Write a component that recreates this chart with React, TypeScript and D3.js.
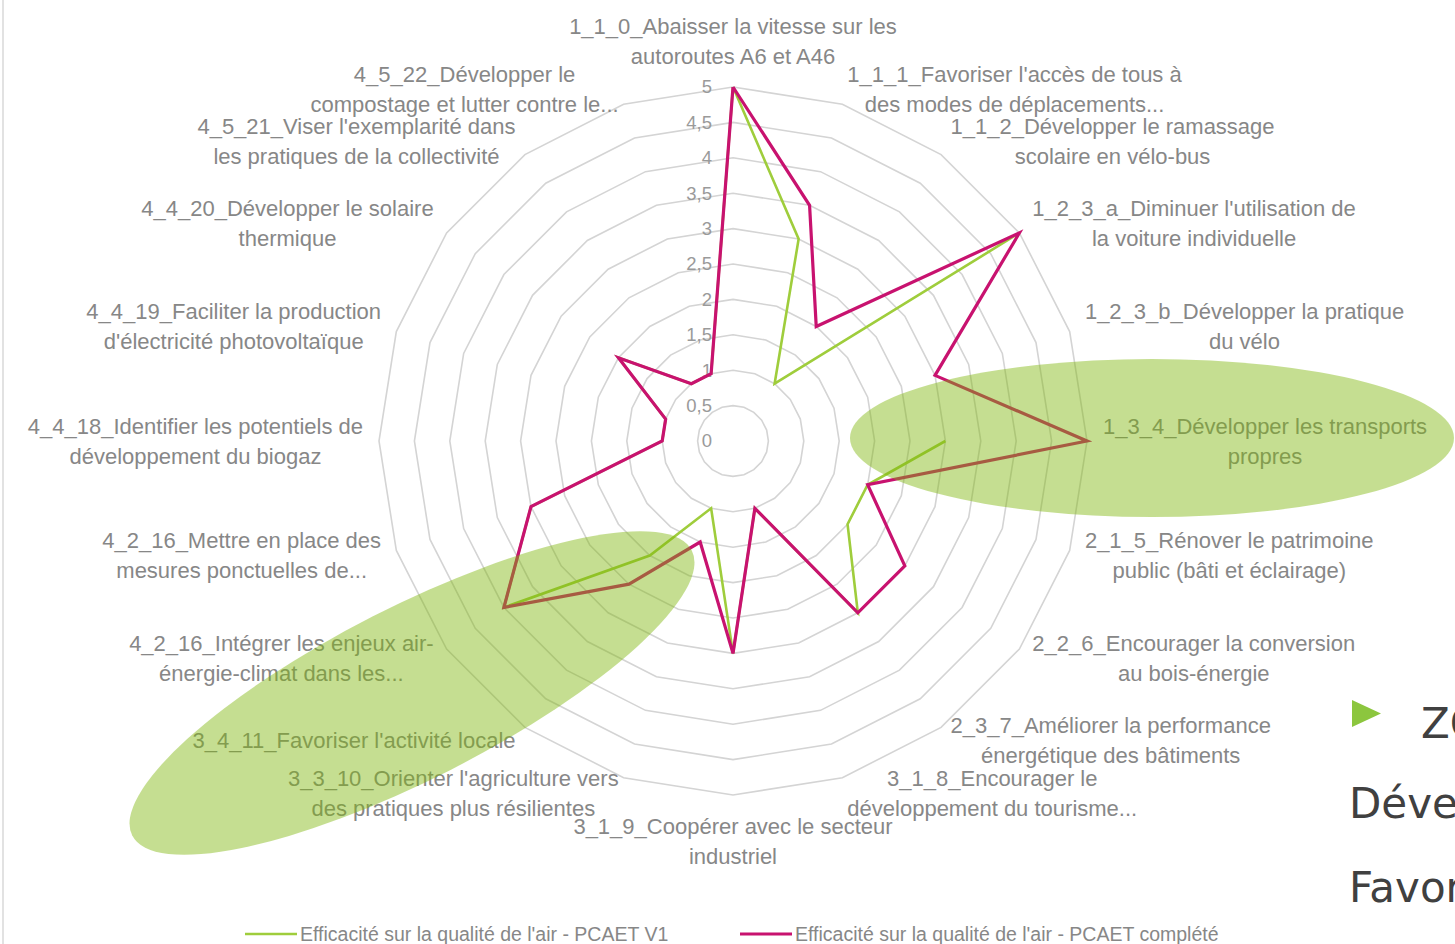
import React, { useEffect, useRef } from "react";
import * as d3 from "d3";

const categories: string[] = [
  "1_1_0_Abaisser la vitesse sur les\nautoroutes A6 et A46",
  "1_1_1_Favoriser l'accès de tous à\ndes modes de déplacements...",
  "1_1_2_Développer le ramassage\nscolaire en vélo-bus",
  "1_2_3_a_Diminuer l'utilisation de\nla voiture individuelle",
  "1_2_3_b_Développer la pratique\ndu vélo",
  "1_3_4_Développer les transports\npropres",
  "2_1_5_Rénover le patrimoine\npublic (bâti et éclairage)",
  "2_2_6_Encourager la conversion\nau bois-énergie",
  "2_3_7_Améliorer la performance\nénergétique des bâtiments",
  "3_1_8_Encourager le\ndéveloppement du tourisme...",
  "3_1_9_Coopérer avec le secteur\nindustriel",
  "3_3_10_Orienter l'agriculture vers\ndes pratiques plus résilientes",
  "3_4_11_Favoriser l'activité locale",
  "4_2_16_Intégrer les enjeux air-\nénergie-climat dans les...",
  "4_2_16_Mettre en place des\nmesures ponctuelles de...",
  "4_4_18_Identifier les potentiels de\ndéveloppement du biogaz",
  "4_4_19_Faciliter la production\nd'électricité photovoltaïque",
  "4_4_20_Développer le solaire\nthermique",
  "4_5_21_Viser l'exemplarité dans\nles pratiques de la collectivité",
  "4_5_22_Développer le\ncompostage et lutter contre le...",
];

const seriesV1: (number | null)[] = [5, 3, 1, 5, null, 3, 2, 2, 3, 1, 3, 1, 2, 4, 3, 1, 1, 2, 1, 1];
const seriesComplete: (number | null)[] = [5, 3.5, 2, 5, 3, 5, 2, 3, 3, 1, 3, 1.5, 2.5, 4, 3, 1, 1, 2, 1, 1];

const seriesNames: string[] = [
  "Efficacité sur la qualité de l'air - PCAET V1",
  "Efficacité sur la qualité de l'air - PCAET complété",
];

const tickValues: number[] = [0, 0.5, 1, 1.5, 2, 2.5, 3, 3.5, 4, 4.5, 5];
const tickLabels: string[] = ["0", "0,5", "1", "1,5", "2", "2,5", "3", "3,5", "4", "4,5", "5"];

const slideLines: string[] = ["ZO", "Déve", "Favor"];

const W = 1455;
const H = 944;
const CX = 733;
const CY = 441;
const R = 354;
const LABEL_FONT = "'Liberation Sans', Arial, sans-serif";
const GREEN = "#9fcd3c";
const MAGENTA = "#c8126f";

export default function App() {
  const ref = useRef<SVGSVGElement | null>(null);

  useEffect(() => {
    const svg = d3.select(ref.current);
    svg.selectAll("*").remove();

    const n = categories.length;
    const step = (2 * Math.PI) / n;
    const r = d3.scaleLinear().domain([0, 5]).range([0, R]);

    svg.append("rect").attr("width", W).attr("height", H).attr("fill", "#ffffff");
    svg.append("line").attr("x1", 3).attr("x2", 3).attr("y1", 0).attr("y2", H)
      .attr("stroke", "#d9d9d9").attr("stroke-width", 1.5);

    const g = svg.append("g").attr("transform", `translate(${CX},${CY})`);

    // grid rings
    const ring = d3.lineRadial<number>()
      .angle((_, i) => i * step)
      .radius((d) => r(d))
      .curve(d3.curveLinearClosed);
    tickValues.filter((v) => v > 0).forEach((v) => {
      g.append("path")
        .attr("d", ring(d3.range(n).map(() => v)) as string)
        .attr("fill", "none")
        .attr("stroke", "#d4d4d4")
        .attr("stroke-width", 1.6);
    });

    // tick labels
    tickValues.forEach((v, i) => {
      g.append("text")
        .attr("x", -21)
        .attr("y", -r(v))
        .attr("dy", "0.35em")
        .attr("text-anchor", "end")
        .attr("font-family", LABEL_FONT)
        .attr("font-size", 18.5)
        .attr("fill", "#9a9a9a")
        .text(tickLabels[i]);
    });

    // category labels
    const lineH = 30;
    categories.forEach((cat, i) => {
      const a = i * step;
      const s = Math.sin(a);
      const c = Math.cos(a);
      const ax = CX + (R + 16) * s;
      const ay = CY - (R + 16) * c;
      const lines = cat.split("\n");
      const texts = lines.map((ln) =>
        svg.append("text")
          .attr("font-family", LABEL_FONT)
          .attr("font-size", 22)
          .attr("fill", "#878787")
          .attr("text-anchor", "middle")
          .attr("dy", "0.35em")
          .text(ln)
      );
      const widths = texts.map((t) => (t.node() as SVGTextElement).getComputedTextLength());
      const bw = Math.max(...widths);
      const m = lines.length;
      texts.forEach((t, j) => {
        let x: number;
        let y: number;
        if (Math.abs(s) < 1e-6) {
          x = ax;
          y = c > 0 ? ay - 15 - (m - 1 - j) * lineH : ay + 15 + j * lineH;
        } else {
          x = s > 0 ? ax + bw / 2 : ax - bw / 2;
          y = ay + (j - (m - 1) / 2) * lineH;
        }
        t.attr("x", x).attr("y", y);
      });
    });

    // series
    const line = d3.lineRadial<number | null>()
      .defined((d) => d !== null)
      .angle((_, i) => i * step)
      .radius((d) => r(d as number));

    const drawSeries = (vals: (number | null)[], color: string, width: number) => {
      g.append("path")
        .attr("d", line([...vals, vals[0]]) as string)
        .attr("fill", "none")
        .attr("stroke", color)
        .attr("stroke-width", width)
        .attr("stroke-linejoin", "miter");
    };
    drawSeries(seriesV1, GREEN, 2.6);
    drawSeries(seriesComplete, MAGENTA, 3.2);

    // legend
    const legend = [
      { x: 245, color: GREEN, w: 2.6, name: seriesNames[0] },
      { x: 740, color: MAGENTA, w: 3.2, name: seriesNames[1] },
    ];
    legend.forEach((l) => {
      svg.append("line").attr("x1", l.x).attr("x2", l.x + 52).attr("y1", 934).attr("y2", 934)
        .attr("stroke", l.color).attr("stroke-width", l.w);
      svg.append("text").attr("x", l.x + 55).attr("y", 934).attr("dy", "0.35em")
        .attr("font-family", LABEL_FONT).attr("font-size", 19.5).attr("fill", "#878787")
        .text(l.name);
    });

    // highlight ellipses
    const hl = "rgb(127,182,11)";
    svg.append("ellipse").attr("cx", 1152).attr("cy", 438).attr("rx", 302).attr("ry", 79)
      .attr("fill", hl).attr("fill-opacity", 0.45);
    svg.append("ellipse").attr("cx", 0).attr("cy", 0).attr("rx", 314).attr("ry", 86)
      .attr("transform", "translate(412,693) rotate(-27)")
      .attr("fill", hl).attr("fill-opacity", 0.45);

    // slide text on the right
    svg.append("path").attr("d", "M1352,700 L1381,713.5 L1352,727 Z").attr("fill", "#8cc63e");
    const slideFont = "'DejaVu Sans', 'Open Sans', sans-serif";
    svg.append("text").attr("x", 1421).attr("y", 738).attr("font-family", slideFont)
      .attr("font-size", 42).attr("fill", "#404040").text(slideLines[0]);
    svg.append("text").attr("x", 1349).attr("y", 818).attr("font-family", slideFont)
      .attr("font-size", 42).attr("fill", "#404040").text(slideLines[1]);
    svg.append("text").attr("x", 1349).attr("y", 902).attr("font-family", slideFont)
      .attr("font-size", 42).attr("fill", "#404040").text(slideLines[2]);
  }, []);

  return (
    <svg
      ref={ref}
      width={W}
      height={H}
      style={{ position: "absolute", left: 0, top: 0, display: "block" }}
    />
  );
}
